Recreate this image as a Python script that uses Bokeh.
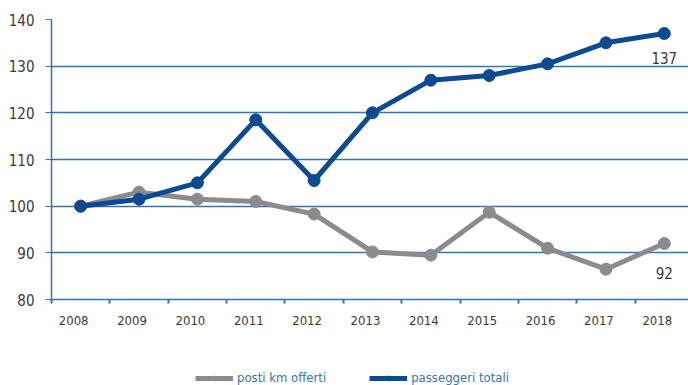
from bokeh.plotting import figure
from bokeh.layouts import column
from bokeh.models import (Range1d, FixedTicker, ColumnDataSource, Legend, LegendItem)
from bokeh.core.properties import value
from bokeh.embed import file_html
from bokeh.resources import INLINE

years = ["2008", "2009", "2010", "2011", "2012", "2013", "2014", "2015", "2016", "2017", "2018"]
posti_km_offerti = [100, 103, 101.5, 101, 98.3, 90.2, 89.5, 98.7, 91, 86.5, 92]
passeggeri_totali = [100, 101.5, 105, 118.5, 105.5, 120, 127, 128, 130.5, 135, 137]
y_ticks = [80, 90, 100, 110, 120, 130, 140]
end_labels = ["92", "137"]
series_names = ["posti km offerti", "passeggeri totali"]

FONT = "DejaVu Sans Condensed"
BLUE = "#0c4a91"
GRAY = "#8b8b8d"
GRID = "#3572b6"
TXT = "#3a3a3a"

xs = [i + 0.5 for i in range(len(years))]

p = figure(width=688, height=340, output_backend="svg", toolbar_location=None,
           x_range=Range1d(0, 10.915), y_range=Range1d(80, 140),
           min_border_left=51, min_border_right=0, min_border_top=19, min_border_bottom=41)
p.outline_line_color = None
p.background_fill_color = "white"

src = ColumnDataSource(dict(x=xs, g=posti_km_offerti, b=passeggeri_totali))
p.line("x", "g", source=src, line_color=GRAY, line_width=5)
p.scatter("x", "g", source=src, size=12, color=GRAY)
p.line("x", "b", source=src, line_color=BLUE, line_width=5)
p.scatter("x", "b", source=src, size=12, color=BLUE)

p.text(x=[xs[-1], xs[-1]], y=[posti_km_offerti[-1], passeggeri_totali[-1]], text=end_labels,
       y_offset=[29, 24], text_align="center", text_baseline="middle",
       text_font=value(FONT), text_font_size="15px", text_color=TXT)

label_pos = [i + 0.38 for i in range(len(years))]
p.xaxis.ticker = FixedTicker(ticks=label_pos, minor_ticks=list(range(0, 12)))
p.xaxis.major_label_overrides = {lp: y for lp, y in zip(label_pos, years)}
p.xaxis.major_tick_out = 0
p.xaxis.major_tick_in = 0
p.xaxis.minor_tick_out = 4
p.xaxis.minor_tick_in = 0
p.xaxis.minor_tick_line_color = GRID
p.xaxis.minor_tick_line_width = 2
p.xaxis.axis_line_color = GRID
p.xaxis.axis_line_width = 1.5
p.xaxis.major_label_text_font = FONT
p.xaxis.major_label_text_font_size = "13px"
p.xaxis.major_label_text_color = TXT
p.xaxis.major_label_standoff = 12

p.yaxis.ticker = FixedTicker(ticks=y_ticks)
p.yaxis.major_tick_out = 6
p.yaxis.major_tick_in = 0
p.yaxis.major_tick_line_color = GRID
p.yaxis.minor_tick_line_color = None
p.yaxis.axis_line_color = GRID
p.yaxis.axis_line_width = 1.5
p.yaxis.major_label_text_font = FONT
p.yaxis.major_label_text_font_size = "15px"
p.yaxis.major_label_text_color = TXT
p.yaxis.major_label_standoff = 11

p.xgrid.grid_line_color = None
p.ygrid.ticker = FixedTicker(ticks=y_ticks)
p.ygrid.grid_line_color = GRID
p.ygrid.grid_line_width = 1.3

# legend strip below the chart (its renderers point at data outside its view)
lf = figure(width=688, height=45, output_backend="svg", toolbar_location=None,
            x_range=Range1d(-100, -99), y_range=Range1d(0, 1),
            min_border=0, outline_line_color=None)
lf.axis.visible = False
lf.grid.visible = False
items = []
for name, col, key in zip(series_names, [GRAY, BLUE], ["g", "b"]):
    r1 = lf.line("x", key, source=src, line_color=col, line_width=5)
    r2 = lf.scatter("x", key, source=src, size=11, color=col)
    items.append(LegendItem(label=name, renderers=[r1, r2]))
legend = Legend(items=items, orientation="horizontal", location=(144, 0),
                label_text_font=FONT, label_text_font_size="13px", label_text_color=GRID,
                glyph_width=38, glyph_height=12, label_standoff=4, spacing=43,
                border_line_color=None, background_fill_alpha=0, padding=0, margin=0)
lf.add_layout(legend, "center")

open("out.html", "w").write(file_html(column(p, lf, spacing=0), INLINE))
